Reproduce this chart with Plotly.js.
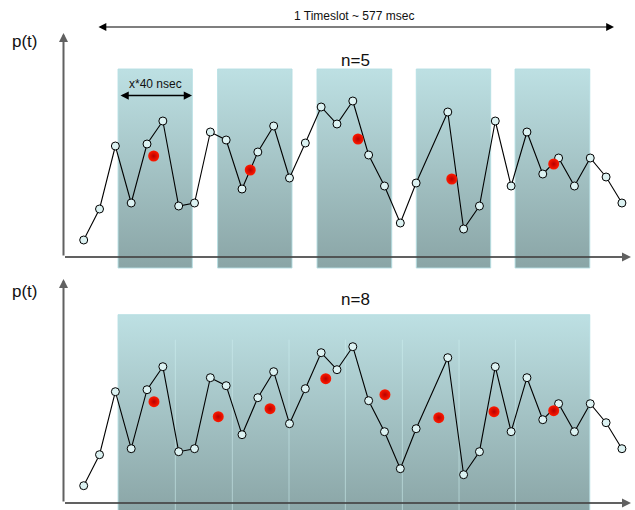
<!DOCTYPE html>
<html>
<head>
<meta charset="utf-8">
<script src="https://cdn.plot.ly/plotly-3.0.1.min.js"></script>
<style>html,body{margin:0;padding:0;background:#fff;}#chart{width:635px;height:510px;}</style>
</head>
<body>
<div id="chart"></div>
<script>
// ---- data (time in sample index units, p(t) in arbitrary units) ----
const timeIdx = [0,1,2,3,4,5,6,7,8,9,10,11,12,13,14,15,16,17,18,19,20,21,23,24,25,26,27,28,29,30,31,32,33,34];
const pValues = [17,48,111,54,113,136,51,54,125,117,68,105,131,79,114,150,133,156,102,71,34,74,145,28,51,136,71,125,83,99,71,99,80,54];

// n=5 windows and their averages
const n5WindowStart = [2.17, 8.46, 14.74, 21.01, 27.25];
const n5WindowEnd   = [6.86, 13.16, 19.46, 25.71, 31.97];
const n5AvgX = [4.42, 10.52, 17.33, 23.25, 29.69];
const n5AvgY = [101, 87, 118, 78, 93];

// n=8 sliding band and its averages
const n8BandStart = 2.17;
const n8BandEnd = 31.97;
const n8Dividers = [5.79, 9.39, 12.97, 16.53, 20.13, 23.71, 27.27];
const n8AvgX = [4.44, 8.5, 11.77, 15.29, 19.03, 22.43, 25.92, 29.69];
const n8AvgY = [101, 86, 94, 124, 108, 85, 91, 92];

// texts
const yLabel = 'p(t)';
const titleTop = 'n=5';
const titleBottom = 'n=8';
const timeslotLabel = '1 Timeslot ~ 577 msec';
const windowLabel = 'x*40 nsec';

// ---- style ----
const W = 635, H = 510;
const bandTop = 188, bandBottom = -11, dividerTop = 163;
const gradScale = [[0, '#8aa5a6'], [1, '#bde0e3']];
const FONT = '"Liberation Sans", Arial, sans-serif';
const px = v => v / W, py = v => 1 - v / H;

function band(x0, x1, xa, ya) {
  return {
    type: 'scatter', mode: 'lines', xaxis: xa, yaxis: ya,
    x: [x0, x1, x1, x0, x0], y: [bandBottom, bandBottom, bandTop, bandTop, bandBottom],
    fill: 'toself', fillcolor: '#a5c6c8',
    fillgradient: {type: 'vertical', colorscale: gradScale},
    line: {color: 'rgba(180,222,226,0.9)', width: 1},
    hoverinfo: 'skip', showlegend: false
  };
}
function series(xa, ya) {
  return {
    type: 'scatter', mode: 'lines+markers', xaxis: xa, yaxis: ya,
    x: timeIdx, y: pValues,
    line: {color: '#000', width: 1.1},
    marker: {size: 8, color: '#dcf2f2', line: {color: '#000', width: 1}},
    cliponaxis: false, hoverinfo: 'skip', showlegend: false
  };
}
function avgs(xs, ys, xa, ya) {
  return {
    type: 'scatter', mode: 'markers', xaxis: xa, yaxis: ya,
    x: xs, y: ys,
    marker: {size: 11, color: '#ff1a00', gradient: {type: 'radial', color: '#b80000'}, line: {width: 0}},
    hoverinfo: 'skip', showlegend: false
  };
}

const traces = [];
n5WindowStart.forEach((s, i) => traces.push(band(s, n5WindowEnd[i], 'x', 'y')));
traces.push(band(n8BandStart, n8BandEnd, 'x2', 'y2'));
const dx = [], dy = [];
n8Dividers.forEach(d => { dx.push(d, d, null); dy.push(dividerTop, bandBottom, null); });
traces.push({type: 'scatter', mode: 'lines', xaxis: 'x2', yaxis: 'y2', x: dx, y: dy,
  line: {color: 'rgba(205,238,240,0.55)', width: 1}, hoverinfo: 'skip', showlegend: false});
traces.push(series('x', 'y'));
traces.push(avgs(n5AvgX, n5AvgY, 'x', 'y'));
traces.push(series('x2', 'y2'));
traces.push(avgs(n8AvgX, n8AvgY, 'x2', 'y2'));

const xr = [-5.287, 34.826];
const splitFrac = 1 - 270 / H;

function arrow(x0, y0, x1, y1, opts) {
  // tail (x0,y0) -> tip (x1,y1), in pixels
  return Object.assign({
    xref: 'paper', yref: 'paper', x: px(x1), y: py(y1),
    ax: x0 - x1, ay: y0 - y1, axref: 'pixel', ayref: 'pixel',
    text: '', showarrow: true, arrowhead: 2, arrowsize: 0.9, arrowwidth: 2,
    arrowcolor: 'rgba(70,70,70,0.85)', standoff: 0, startstandoff: 0
  }, opts || {});
}
function label(x, y, text, size) {
  return {xref: 'paper', yref: 'paper', x: px(x), y: py(y), xanchor: 'center', yanchor: 'middle',
    text: text, showarrow: false, font: {family: FONT, size: size, color: '#111'}};
}

const annotations = [
  arrow(63.5, 257, 63.5, 33),
  arrow(63.5, 257, 631, 257),
  arrow(63.5, 503, 63.5, 279),
  arrow(63.5, 503, 631, 503),
  arrow(97, 27, 614, 27, {arrowwidth: 1.2, arrowcolor: '#000', arrowside: 'end+start', arrowhead: 2, startarrowhead: 2, arrowsize: 1.3, startarrowsize: 1.3}),
  arrow(119, 95.5, 192, 95.5, {arrowwidth: 1.5, arrowcolor: '#000', arrowside: 'end+start', arrowhead: 2, startarrowhead: 2, arrowsize: 1.1, startarrowsize: 1.1}),
  label(25, 41, yLabel, 17),
  label(25, 291, yLabel, 17),
  label(355, 60, titleTop, 17),
  label(355, 299, titleBottom, 17),
  label(354, 16, timeslotLabel, 12),
  label(155.5, 84, windowLabel, 12)
];

const layout = {
  width: W, height: H,
  margin: {l: 0, r: 0, t: 0, b: 0, pad: 0},
  paper_bgcolor: '#fff', plot_bgcolor: 'rgba(0,0,0,0)',
  showlegend: false,
  xaxis: {range: xr, visible: false, domain: [0, 1], anchor: 'y', fixedrange: true},
  yaxis: {range: [-13, 257], visible: false, domain: [splitFrac, 1], anchor: 'x', fixedrange: true},
  xaxis2: {range: xr, visible: false, domain: [0, 1], anchor: 'y2', fixedrange: true},
  yaxis2: {range: [-7.3, 232.7], visible: false, domain: [0, splitFrac], anchor: 'x2', fixedrange: true},
  annotations: annotations,
  font: {family: FONT}
};

Plotly.newPlot('chart', traces, layout, {displayModeBar: false, staticPlot: true});
</script>
</body>
</html>
